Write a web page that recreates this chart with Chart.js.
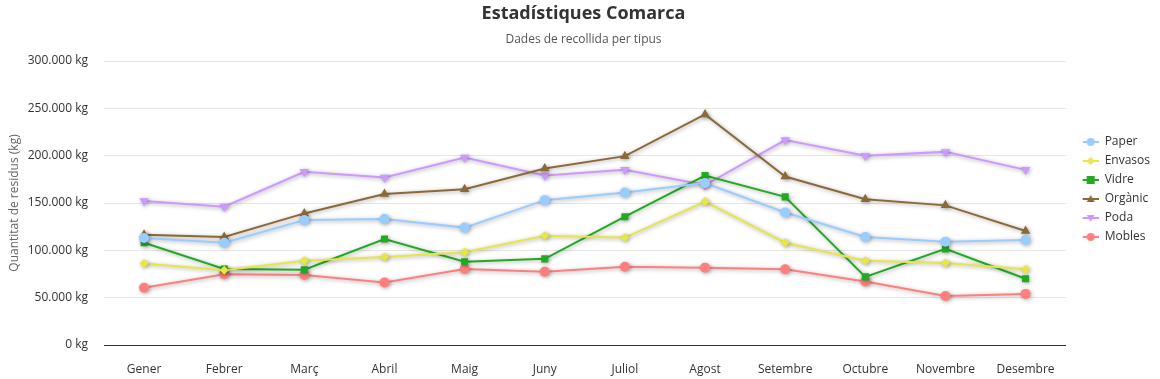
<!DOCTYPE html>
<html>
<head>
<meta charset="utf-8">
<script src="https://cdn.jsdelivr.net/npm/chart.js@4"></script>
<style>
html,body{margin:0;padding:0;background:#fff;}
#wrap{width:1160px;height:379px;position:relative;}
</style>
</head>
<body>
<div id="wrap"><canvas id="c" width="1160" height="379"></canvas></div>
<script>
const categories = ['Gener','Febrer','Març','Abril','Maig','Juny','Juliol','Agost','Setembre','Octubre','Novembre','Desembre'];
const paper   = [113000,108000,132000,133000,124000,153000,161000,171000,140000,114000,109000,111000];
const envasos = [86000,79000,89000,93000,98000,115500,113500,151500,108000,89000,86500,80000];
const vidre   = [108000,80300,79500,112000,88000,91000,135500,179000,156500,72000,101500,70000];
const organic = [116500,114000,139000,159500,164500,186500,199500,243500,178000,154000,147500,120500];
const poda    = [152000,146000,183000,177000,198000,179000,185000,169000,216500,200000,204000,185000];
const mobles  = [60500,74700,74000,66000,80300,77500,82700,81700,80000,67000,51800,54000];
const yTicks  = [0,50000,100000,150000,200000,250000,300000];

const FONT = '"Open Sans", "Noto Sans", sans-serif';

const series = [
  {label:'Paper',   data:paper,   color:'#99ccff', style:'circle',   rot:0,   r:5},
  {label:'Envasos', data:envasos, color:'#e6e645', style:'rectRot',  rot:0,   r:4.5},
  {label:'Vidre',   data:vidre,   color:'#22aa22', style:'rect',     rot:0,   r:5},
  {label:'Orgànic', data:organic, color:'#8b6a3a', style:'triangle', rot:0,   r:5.5},
  {label:'Poda',    data:poda,    color:'#cc99ff', style:'triangle', rot:180, r:5.5},
  {label:'Mobles',  data:mobles,  color:'#ff7f7f', style:'circle',   rot:0,   r:5}
];

function fmt(v){
  return String(v).replace(/\B(?=(\d{3})+(?!\d))/g,'.') + ' kg';
}

function legendIcon(s){
  const cv = document.createElement('canvas');
  cv.width = 26; cv.height = 12;
  const g = cv.getContext('2d');
  const x0 = 10;
  g.strokeStyle = s.color; g.fillStyle = s.color; g.lineWidth = 2;
  g.beginPath(); g.moveTo(x0,6); g.lineTo(x0+16,6); g.stroke();
  const cx=x0+8, cy=6, r=4;
  g.beginPath();
  if (s.style==='circle'){ g.arc(cx,cy,r,0,Math.PI*2); }
  else if (s.style==='rect'){ g.rect(cx-r,cy-r,2*r,2*r); }
  else if (s.style==='rectRot'){ g.moveTo(cx,cy-r); g.lineTo(cx+r,cy); g.lineTo(cx,cy+r); g.lineTo(cx-r,cy); g.closePath(); }
  else if (s.style==='triangle'){
    if (s.rot===180){ g.moveTo(cx-r,cy-r+1); g.lineTo(cx+r,cy-r+1); g.lineTo(cx,cy+r); g.closePath(); }
    else { g.moveTo(cx-r,cy+r-1); g.lineTo(cx+r,cy+r-1); g.lineTo(cx,cy-r); g.closePath(); }
  }
  g.fill();
  return cv;
}
const icons = series.map(legendIcon);

const shadowPlugin = {
  id:'shadow',
  beforeDatasetDraw(chart){
    const ctx = chart.ctx;
    ctx.save();
    ctx.shadowColor = 'rgba(0,0,0,0.35)';
    ctx.shadowBlur = 4;
    ctx.shadowOffsetX = 1;
    ctx.shadowOffsetY = 1;
  },
  afterDatasetDraw(chart){
    chart.ctx.restore();
  }
};

new Chart(document.getElementById('c'), {
  type:'line',
  data:{
    labels:categories,
    datasets: series.map(s=>({
      label:s.label,
      data:s.data,
      borderColor:s.color,
      backgroundColor:s.color,
      borderWidth:2,
      pointStyle:s.style,
      rotation:s.rot,
      pointRadius:s.r,
      pointHoverRadius:s.r,
      pointBorderWidth:0,
      tension:0,
      fill:false
    }))
  },
  plugins:[shadowPlugin],
  options:{
    responsive:false,
    animation:false,
    layout:{padding:{left:7,right:0,top:0,bottom:0}},
    plugins:{
      title:{display:true,text:'Estadístiques Comarca',color:'#333333',
        font:{family:FONT,size:18,weight:'bold'},padding:{top:3,bottom:6}},
      subtitle:{display:true,text:'Dades de recollida per tipus',color:'#555555',
        font:{family:FONT,size:12},padding:{top:2,bottom:14}},
      legend:{
        position:'right',
        labels:{
          usePointStyle:true,
          pointStyleWidth:26,
          font:{family:FONT,size:12},
          color:'#333333',
          padding:7,
          generateLabels(chart){
            return series.map((s,i)=>({
              text:s.label, pointStyle:icons[i], fillStyle:s.color, strokeStyle:s.color,
              lineWidth:0, hidden:false, datasetIndex:i, fontColor:'#333333'
            }));
          }
        }
      },
      tooltip:{enabled:false}
    },
    scales:{
      x:{
        offset:true,
        grid:{display:false,drawTicks:false},
        border:{display:true,color:'#333333',width:1},
        ticks:{font:{family:FONT,size:12},color:'#333333',padding:17,maxRotation:0},
        afterFit(scale){ scale.height = 34; }
      },
      y:{
        min:0,max:300000,
        afterBuildTicks(axis){ axis.ticks = yTicks.map(v=>({value:v})); },
        grid:{color:'#e6e6e6',drawTicks:false},
        border:{display:false},
        ticks:{font:{family:FONT,size:12},color:'#333333',padding:16,callback:v=>fmt(v)},
        title:{display:true,text:'Quantitat de residus (kg)',color:'#666666',
          font:{family:FONT,size:12},padding:{top:0,bottom:6}},
        afterFit(scale){ scale.width = 97; }
      }
    }
  }
});
</script>
</body>
</html>
